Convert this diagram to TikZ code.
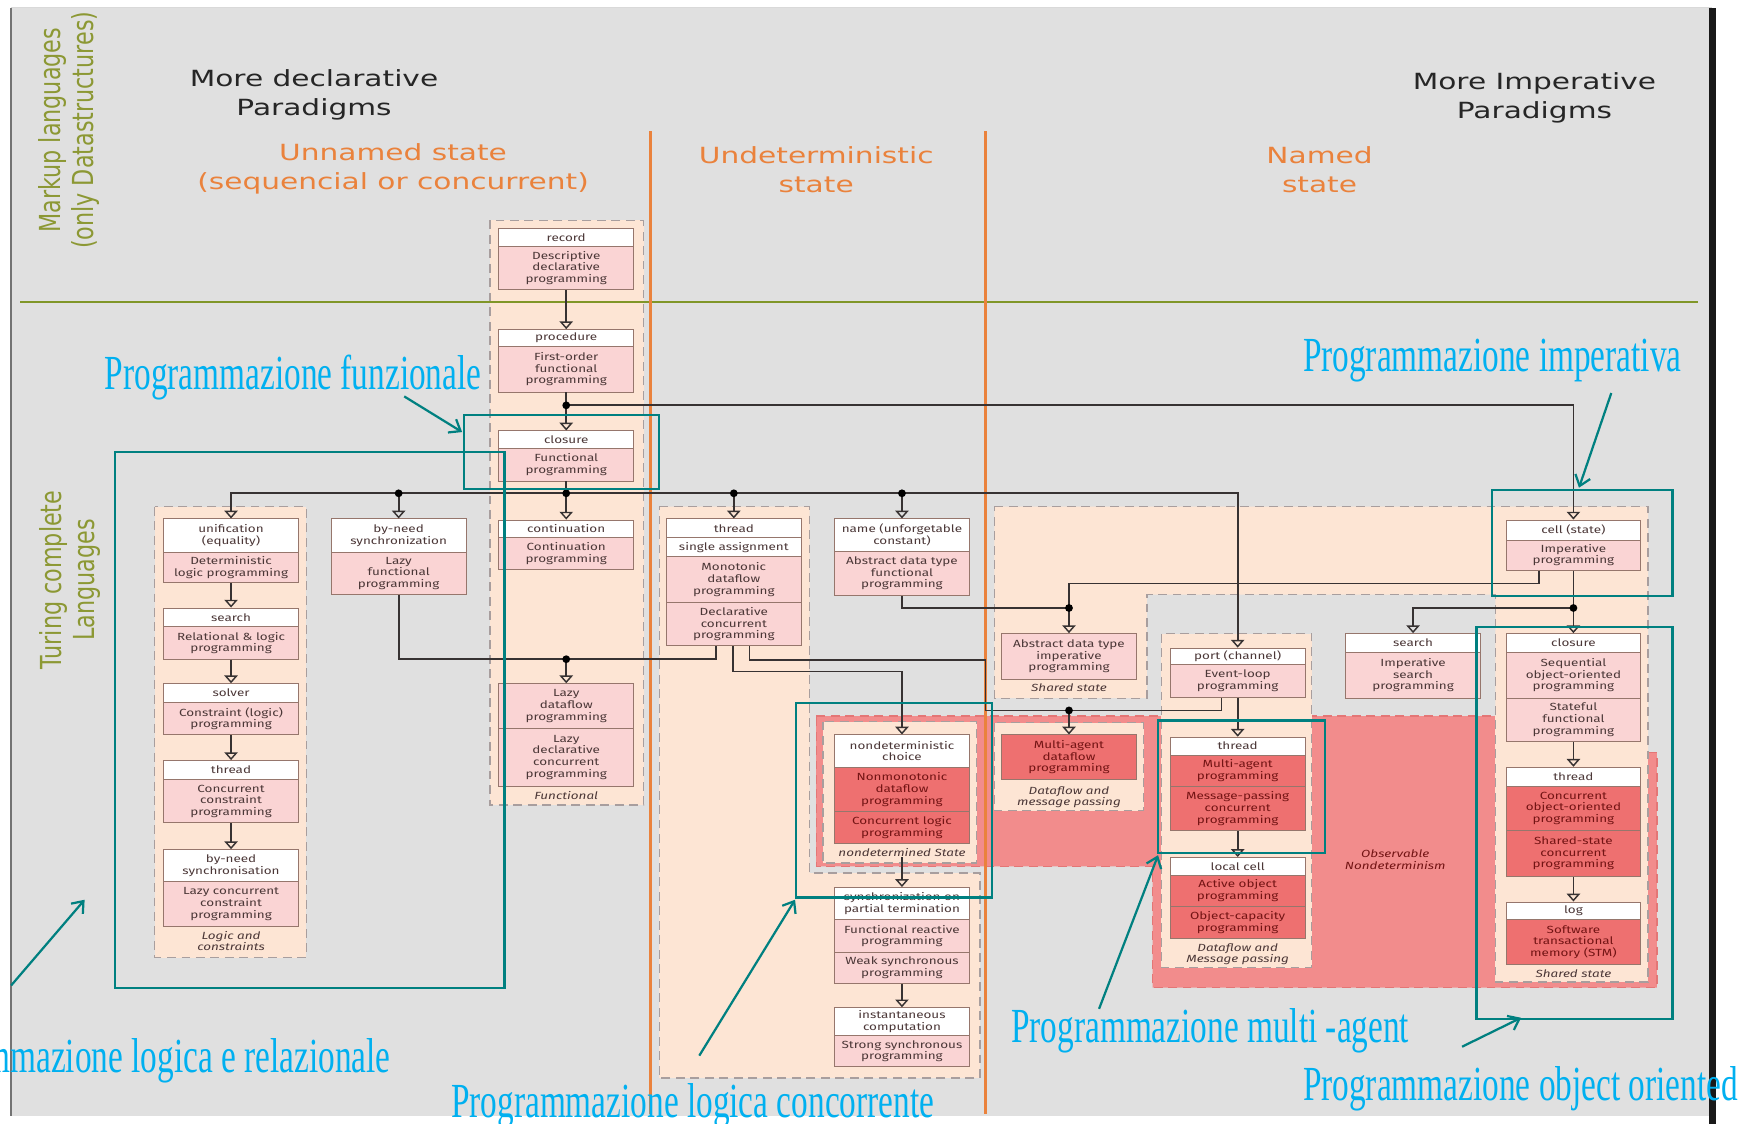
\documentclass[tikz,border=0pt]{standalone}
\usepackage{fontspec}
\usetikzlibrary{arrows.meta}
\newfontfamily\titlefont[FakeStretch=1.33]{DejaVu Sans}
\newfontfamily\sidefont{DejaVu Sans}
\newfontfamily\cellfont[FakeStretch=1.3]{Fira Sans}
\newfontfamily\notefont[FakeStretch=0.68]{Liberation Serif}

\definecolor{bggray}{RGB}{224,224,224}
\definecolor{peach}{RGB}{253,229,212}
\definecolor{pinkcell}{RGB}{250,212,212}
\definecolor{redcell}{RGB}{238,112,112}
\definecolor{redzone}{RGB}{242,140,140}
\definecolor{cellline}{RGB}{150,118,108}
\definecolor{celltext}{RGB}{75,55,55}
\definecolor{redtext}{RGB}{115,20,20}
\definecolor{dashgray}{RGB}{168,158,158}
\definecolor{dashred}{RGB}{228,118,118}
\definecolor{wire}{RGB}{55,50,50}
\definecolor{orangeline}{RGB}{234,130,60}
\definecolor{oliveline}{RGB}{128,150,40}
\definecolor{olivetext}{RGB}{140,152,52}
\definecolor{tealbox}{RGB}{0,128,128}
\definecolor{cyanlabel}{RGB}{0,176,240}

% one cell of a paradigm box: style, name, centre x, top y, bottom y, text
\newcommand{\pcell}[6]{\node[#1, minimum height={#5-#4}] (#2) at (#3,{(#4+#5)/2}) {#6};}

\tikzset{
  cellbase/.style={draw=cellline, line width=0.8pt, minimum width=121pt, inner sep=0pt,
    align=center, font={\cellfont\fontsize{9.3}{10.5}\selectfont}, text=celltext},
  hd/.style={cellbase, fill=white},
  pk/.style={cellbase, fill=pinkcell},
  rd/.style={cellbase, fill=redcell, text=redtext},
  grouplab/.style={font={\cellfont\itshape\fontsize{9.3}{10}\selectfont}, text=celltext,
    align=center, inner sep=0pt},
  zone/.style={fill=peach, draw=dashgray, line width=1.2pt, dash pattern=on 8pt off 5pt},
  wireline/.style={draw=wire, line width=1.6pt},
  flow/.style={wireline, -{Triangle[open, length=7pt, width=12pt, line width=1.3pt]}},
  joint/.style={fill=black},
  orangerule/.style={draw=orangeline, line width=2.6pt},
  tframe/.style={draw=tealbox, line width=2pt, inner sep=0pt},
  tarrow/.style={draw=tealbox, line width=2pt, -{Straight Barb[length=9pt, width=14pt, line width=2pt]}},
  note/.style={text=cyanlabel, font={\notefont\fontsize{44}{44}\selectfont}, inner sep=0pt},
  heading/.style={font={\titlefont\fontsize{20}{26}\selectfont}, align=center, inner sep=0pt},
  sidetext/.style={font={\sidefont\fontsize{20}{23}\selectfont}, text=olivetext, align=center, inner sep=0pt},
}

\begin{document}
\begin{tikzpicture}[x=1pt, y=-1pt]
\path[use as bounding box, clip] (0,0) rectangle (1568,1009);

% ---------- sheet ----------
\fill[white] (0,0) rectangle (1568,1009);
\fill[bggray] (10,7) rectangle (1537,1002);
\draw[black!55, line width=1.4pt] (10,7) -- (10,1002);
\draw[black!15, line width=1pt] (10,7) -- (1537,7);
\fill[black!90] (1535,7) rectangle (1541,1009);

% ---------- grouping zones ----------
\path[zone] (440,198) rectangle (578,723);
\path[zone] (139,455) rectangle (275,860);
\path[zone] (592,455) -- (727,455) -- (727,784) -- (880,784) -- (880,968) -- (592,968) -- cycle;
\fill[peach] (893,455) -- (1480,455) -- (1480,882) -- (1343,882) -- (1343,534) -- (1030,534)
  -- (1030,627) -- (893,627) -- cycle;
\path[fill=redzone, draw=dashred, line width=1.2pt, dash pattern=on 8pt off 5pt]
  (733,643) -- (1343,643) -- (1343,676) -- (1488,676) -- (1488,887) -- (1035,887)
  -- (1035,778) -- (733,778) -- cycle;
\fill[peach] (1343,643) rectangle (1480,882);
\draw[draw=dashgray, line width=1.2pt, dash pattern=on 8pt off 5pt]
  (893,455) -- (1480,455) -- (1480,882) -- (1343,882) -- (1343,534) -- (1030,534)
  -- (1030,627) -- (893,627) -- cycle;
\path[zone] (739,648) rectangle (877,775);
\path[zone] (893,649) rectangle (1027,728);
\path[zone] (1043,569) rectangle (1178,869);

% ---------- rules ----------
\draw[draw=oliveline, line width=2.2pt] (18,271) -- (1525,271);
\draw[orangerule] (584,118) -- (584,1000);
\draw[orangerule] (885,118) -- (885,1000);

% ---------- headings ----------
\begin{scope}[shift={(62,117)}]
  \node[sidetext, rotate=90, yscale=1.3, transform shape] (sideMark) at (0,0)
    {Markup languages\\(only Datastructures)};
\end{scope}
\begin{scope}[shift={(63,521)}]
  \node[sidetext, rotate=90, yscale=1.3, transform shape] (sideTur) at (0,0)
    {Turing complete\\Languages};
\end{scope}
\node[heading, text=black!85] (tDecl) at (282,85) {More declarative\\Paradigms};
\node[heading, text=black!85] (tImp) at (1378,88) {More Imperative\\Paradigms};
\node[heading, text=orangeline] (tUnn) at (353,152) {Unnamed state\\(sequencial or concurrent)};
\node[heading, text=orangeline] (tUnd) at (733,152) {Undeterministic\\state};
\node[heading, text=orangeline] (tNam) at (1185,152) {Named\\state};

% ---------- functional column ----------
\pcell{hd}{recH}{508.5}{205}{221}{record}
\pcell{pk}{recB}{508.5}{221}{260}{Descriptive\\declarative\\programming}
\pcell{hd}{procH}{508.5}{296}{311}{procedure}
\pcell{pk}{procB}{508.5}{311}{352}{First-order\\functional\\programming}
\pcell{hd}{cloH}{508.5}{387}{403}{closure}
\pcell{pk}{cloB}{508.5}{403}{432}{Functional\\programming}
\pcell{hd}{contH}{508.5}{467}{483}{continuation}
\pcell{pk}{contB}{508.5}{483}{511}{Continuation\\programming}
\pcell{pk}{lzB1}{508.5}{614}{654}{Lazy\\dataflow\\programming}
\pcell{pk}{lzB2}{508.5}{654}{706}{Lazy\\declarative\\concurrent\\programming}
\node[grouplab] (labFun) at (508.5,714) {Functional};

% ---------- logic column ----------
\pcell{hd}{uniH}{207.5}{466}{496}{unification\\(equality)}
\pcell{pk}{uniB}{207.5}{496}{523}{Deterministic\\logic programming}
\pcell{hd}{seaH}{207.5}{546}{563}{search}
\pcell{pk}{seaB}{207.5}{563}{592}{Relational \& logic\\programming}
\pcell{hd}{solH}{207.5}{614}{631}{solver}
\pcell{pk}{solB}{207.5}{631}{660}{Constraint (logic)\\programming}
\pcell{hd}{thrH}{207.5}{683}{700}{thread}
\pcell{pk}{thrB}{207.5}{700}{739}{Concurrent\\constraint\\programming}
\pcell{hd}{bnH}{207.5}{763}{792}{by-need\\synchronisation}
\pcell{pk}{bnB}{207.5}{792}{832}{Lazy concurrent\\constraint\\programming}
\node[grouplab] (labLog) at (207.5,845) {Logic and\\constraints};

\pcell{hd}{bzH}{358}{466}{496}{by-need\\synchronization}
\pcell{pk}{bzB}{358}{496}{534}{Lazy\\functional\\programming}

% ---------- undeterministic column ----------
\pcell{hd}{tH1}{659}{466}{483}{thread}
\pcell{hd}{tH2}{659}{483}{500}{single assignment}
\pcell{pk}{tB1}{659}{500}{541}{Monotonic\\dataflow\\programming}
\pcell{pk}{tB2}{659}{541}{580}{Declarative\\concurrent\\programming}

\pcell{hd}{nH}{810}{466}{495}{name (unforgetable\\constant)}
\pcell{pk}{nB}{810}{495}{535}{Abstract data type\\functional\\programming}

\pcell{hd}{ndH}{810}{660}{689}{nondeterministic\\choice}
\pcell{rd}{ndB1}{810}{689}{729}{Nonmonotonic\\dataflow\\programming}
\pcell{rd}{ndB2}{810}{729}{757}{Concurrent logic\\programming}
\node[grouplab] (labNd) at (810,766) {nondetermined State};

\pcell{hd}{syH}{810}{797}{826}{synchronization on\\partial termination}
\pcell{pk}{syB1}{810}{826}{855}{Functional reactive\\programming}
\pcell{pk}{syB2}{810}{855}{883}{Weak synchronous\\programming}
\pcell{hd}{inH}{810}{905}{930}{instantaneous\\computation}
\pcell{pk}{inB}{810}{930}{958}{Strong synchronous\\programming}

% ---------- named state ----------
\pcell{pk}{adB}{960}{569}{610}{Abstract data type\\imperative\\programming}
\node[grouplab] (labSh1) at (960,618) {Shared state};
\pcell{rd}{maB}{960}{660}{700}{Multi-agent\\dataflow\\programming}
\node[grouplab] (labDf1) at (960,716) {Dataflow and\\message passing};

\pcell{hd}{pH}{1111.5}{582}{597}{port (channel)}
\pcell{pk}{pB}{1111.5}{597}{626}{Event-loop\\programming}
\pcell{hd}{thH}{1111.5}{662}{678}{thread}
\pcell{rd}{thB1}{1111.5}{678}{706}{Multi-agent\\programming}
\pcell{rd}{thB2}{1111.5}{706}{746}{Message-passing\\concurrent\\programming}
\pcell{hd}{lcH}{1111.5}{770}{786}{local cell}
\pcell{rd}{lcB1}{1111.5}{786}{814}{Active object\\programming}
\pcell{rd}{lcB2}{1111.5}{814}{843}{Object-capacity\\programming}
\node[grouplab] (labDf2) at (1111.5,857) {Dataflow and\\Message passing};

\pcell{hd}{sH}{1269}{569}{586}{search}
\pcell{pk}{sB}{1269}{586}{627}{Imperative\\search\\programming}

\node[grouplab, text=redtext] (labObs) at (1253,772) {Observable\\Nondeterminism};

\pcell{hd}{cH}{1413}{467}{485}{cell (state)}
\pcell{pk}{cB}{1413}{485}{512}{Imperative\\programming}
\pcell{hd}{clH}{1413}{569}{586}{closure}
\pcell{pk}{clB1}{1413}{586}{627}{Sequential\\object-oriented\\programming}
\pcell{pk}{clB2}{1413}{627}{666}{Stateful\\functional\\programming}
\pcell{hd}{ttH}{1413}{689}{706}{thread}
\pcell{rd}{ttB1}{1413}{706}{746}{Concurrent\\object-oriented\\programming}
\pcell{rd}{ttB2}{1413}{746}{787}{Shared-state\\concurrent\\programming}
\pcell{hd}{logH}{1413}{810}{826}{log}
\pcell{rd}{logB}{1413}{826}{866}{Software\\transactional\\memory (STM)}
\node[grouplab] (labSh2) at (1413,874) {Shared state};

% ---------- junctions and bends ----------
\coordinate (j1) at (508.5,364);
\coordinate (j2) at (508.5,443);
\coordinate (j2a) at (358,443);
\coordinate (j2b) at (659,443);
\coordinate (j2c) at (810,443);
\coordinate (j3) at (508.5,592);
\coordinate (j4) at (960,638);
\coordinate (j5) at (960,546);
\coordinate (j6) at (1413,546);
\coordinate (k1) at (643,592);
\coordinate (k2) at (658,603);
\coordinate (k3) at (673,593);
\coordinate (k4) at (885,638);
\coordinate (k5) at (1097,638);
\coordinate (k6) at (1382,524);

% ---------- connectors ----------
\draw[flow] (recB.south) -- (procH.north);
\draw[flow] (procB.south) -- (cloH.north);
\draw[flow] (j1) -| (cH.north);
\draw[flow] (cloB.south) -- (contH.north);
\draw[flow] (j2) -| (uniH.north);
\draw[flow] (j2a) -- (bzH.north);
\draw[flow] (j2b) -- (tH1.north);
\draw[flow] (j2c) -- (nH.north);
\draw[flow] (j2) -| (pH.north);

\draw[flow] (uniB.south) -- (seaH.north);
\draw[flow] (seaB.south) -- (solH.north);
\draw[flow] (solB.south) -- (thrH.north);
\draw[flow] (thrB.south) -- (bnH.north);

\draw[wireline] (bzB.south) |- (k1) -- (k1 |- tB2.south);
\draw[flow] (j3) -- (lzB1.north);
\draw[flow] (k2 |- tB2.south) -- (k2) -| (ndH.north);
\draw[wireline] (k3 |- tB2.south) -- (k3) -| (k4) -| (k5 |- pB.south);
\draw[flow] (j4) -- (maB.north);

\draw[wireline] (nB.south) |- (j5);
\draw[wireline] (k6 |- cB.south) -- (k6) -| (j5);
\draw[flow] (j5) -- (adB.north);

\draw[flow] (labNd.south) -- (syH.north);
\draw[flow] (syB2.south) -- (inH.north);

\draw[flow] (pB.south) -- (thH.north);
\draw[flow] (thB2.south) -- (lcH.north);

\draw[flow] (cB.south) -- (clH.north);
\draw[flow] (j6) -| (sH.north);
\draw[flow] (clB2.south) -- (ttH.north);
\draw[flow] (ttB2.south) -- (logH.north);

\foreach \p in {j1,j2,j2a,j2b,j2c,j3,j4,j5,j6}
  \fill[joint] (\p) circle[radius=3.5pt];

% ---------- highlight frames ----------
\node[tframe, minimum width=175pt, minimum height=66pt] (fFun) at (504.5,406) {};
\node[tframe, minimum width=350pt, minimum height=481pt] (fLog) at (278,646.5) {};
\node[tframe, minimum width=162pt, minimum height=95pt] (fImp) at (1421,487.5) {};
\node[tframe, minimum width=176pt, minimum height=175pt] (fNd) at (803,718.5) {};
\node[tframe, minimum width=150pt, minimum height=119pt] (fAg) at (1115,706.5) {};
\node[tframe, minimum width=176pt, minimum height=352pt] (fOO) at (1414,739) {};

% ---------- annotations ----------
\node[note, anchor=base west] (nFun) at (94,350) {Programmazione funzionale};
\node[note, anchor=base west] (nImp) at (1170,334) {Programmazione imperativa};
\node[note, anchor=base west] (nAg) at (908,936) {Programmazione multi -agent};
\node[note, anchor=base east] (nLog) at (351,963) {Programmazione logica e relazionale};
\node[note, anchor=base west] (nConc) at (405,1004) {Programmazione logica concorrente};
\node[note, anchor=base west] (nOO) at (1170,988) {Programmazione object oriented};

\coordinate (aFunS) at (363,356);  \coordinate (aFunE) at (415,388);
\coordinate (aImpS) at (1447,353); \coordinate (aImpE) at (1418,438);
\coordinate (aLogS) at (10,885);   \coordinate (aLogE) at (76,808);
\coordinate (aConS) at (628,948);  \coordinate (aConE) at (714,808);
\coordinate (aAgS) at (987,906);   \coordinate (aAgE) at (1040,768);
\coordinate (aOOS) at (1313,940);  \coordinate (aOOE) at (1366,914);
\draw[tarrow] (aFunS) -- (aFunE);
\draw[tarrow] (aImpS) -- (aImpE);
\draw[tarrow] (aLogS) -- (aLogE);
\draw[tarrow] (aConS) -- (aConE);
\draw[tarrow] (aAgS) -- (aAgE);
\draw[tarrow] (aOOS) -- (aOOE);
\end{tikzpicture}
\end{document}
